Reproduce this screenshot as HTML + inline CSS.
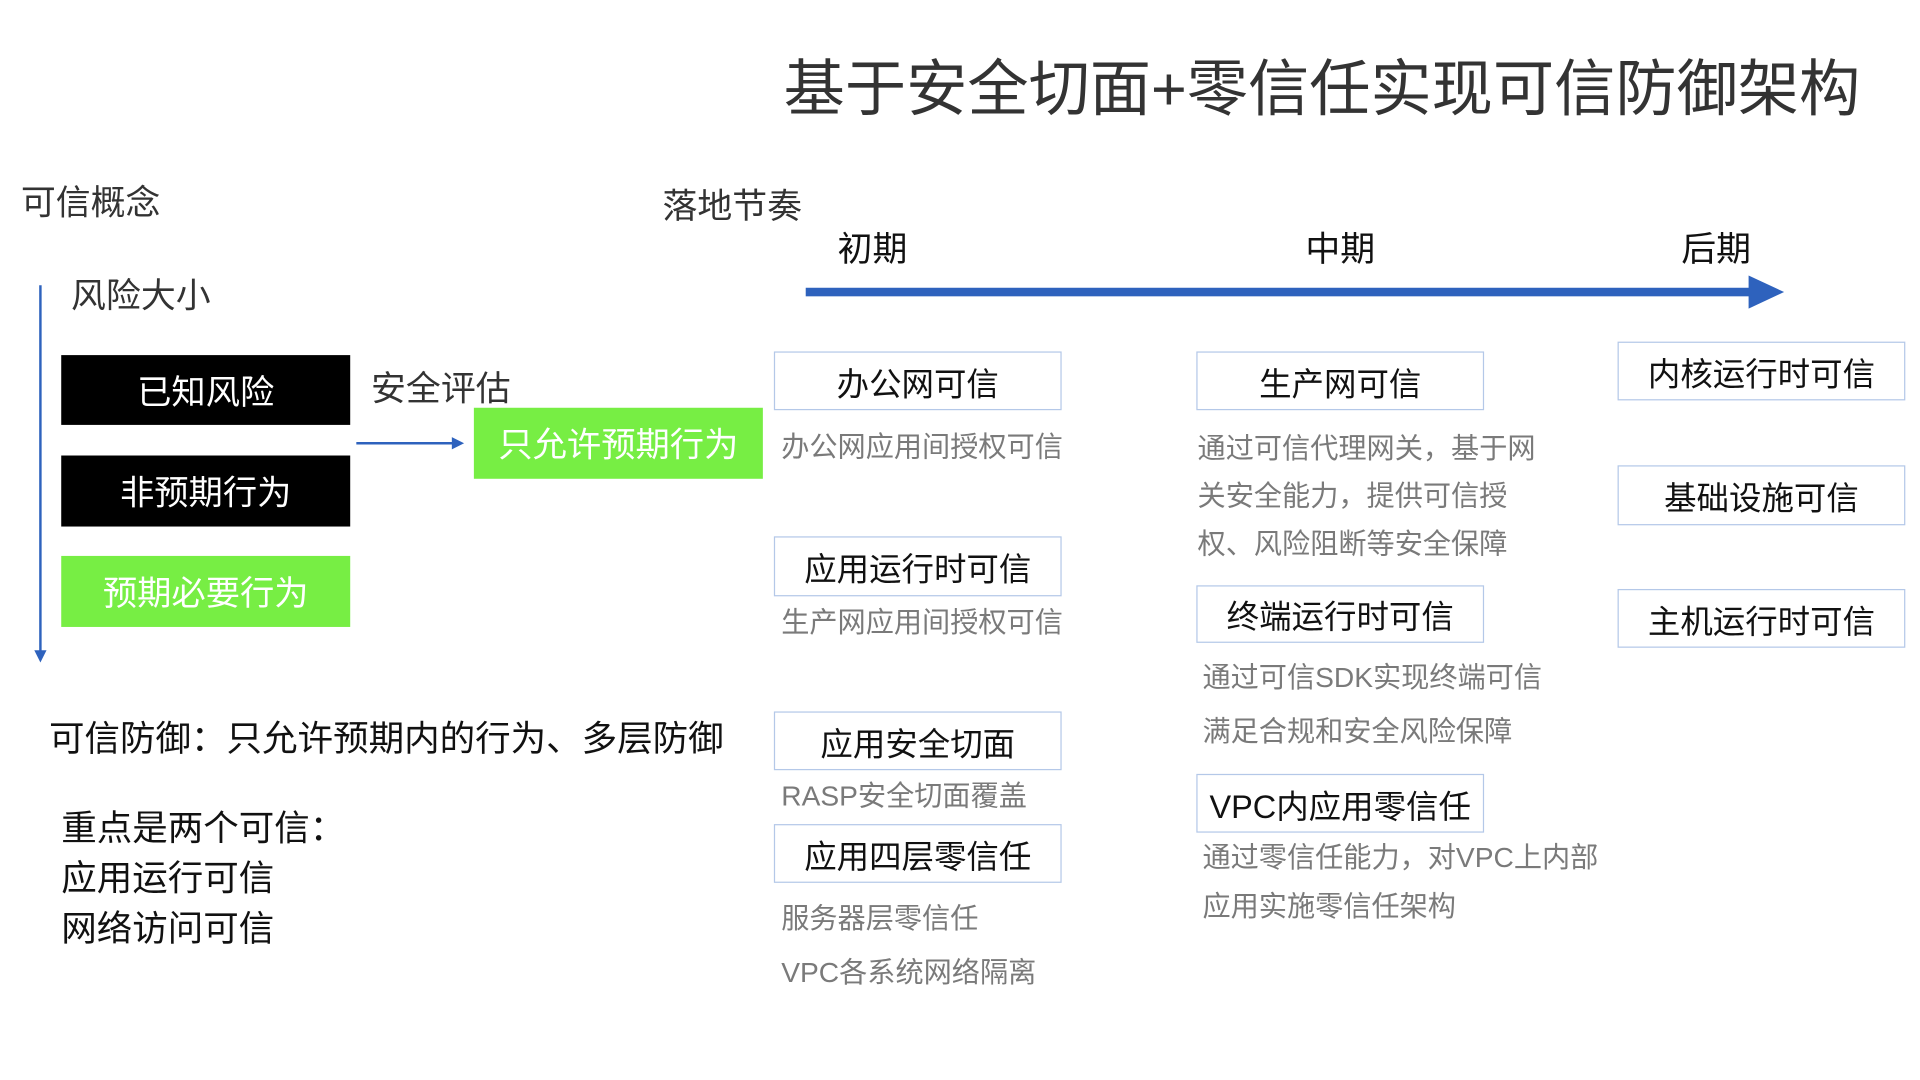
<!DOCTYPE html>
<html><head><meta charset="utf-8"><style>
html,body{margin:0;padding:0;background:#fff;width:1920px;height:1080px;overflow:hidden}
#w{position:absolute;left:0;top:0;width:1568px;height:882px;transform:scale(1.2245);transform-origin:0 0;font-family:"Liberation Sans","Noto Sans CJK SC",sans-serif}
.t{position:absolute;white-space:nowrap;line-height:1}
.b{position:absolute;box-sizing:border-box;border:1.5px solid #b4c8e8;display:flex;align-items:center;justify-content:center;font-size:26.5px;color:#111;background:#fff}
.k{position:absolute;display:flex;align-items:center;justify-content:center;font-size:28px;color:#fff}
.g{font-size:23px;color:#7a7a7a}
</style></head><body><div id="w">
<div class="t" style="left:640px;top:48px;font-size:50px;color:#333">基于安全切面+零信任实现可信防御架构</div>
<div class="t" style="left:17px;top:152px;font-size:28.5px;color:#333">可信概念</div>
<div class="t" style="left:541px;top:155px;font-size:28.5px;color:#333">落地节奏</div>
<div class="t" style="left:684px;top:190px;font-size:28.5px;color:#111">初期</div>
<div class="t" style="left:1066px;top:190px;font-size:28.5px;color:#111">中期</div>
<div class="t" style="left:1373px;top:190px;font-size:28.5px;color:#111">后期</div>
<svg style="position:absolute;left:0;top:0" width="1568" height="882">
<rect x="658" y="235" width="774" height="7" fill="#2e62bd"/>
<polygon points="1428,225 1457,238.5 1428,252" fill="#2e62bd"/>
<line x1="33" y1="233" x2="33" y2="533" stroke="#2e62bd" stroke-width="2"/>
<polygon points="28,531 38,531 33,541" fill="#2e62bd"/>
<line x1="291" y1="362" x2="370" y2="362" stroke="#2e62bd" stroke-width="2"/>
<polygon points="369,357 379,362 369,367" fill="#2e62bd"/>
</svg>
<div class="t" style="left:58px;top:228px;font-size:28.5px;color:#333">风险大小</div>
<div class="k" style="left:50px;top:290px;width:236px;height:57px;background:#000">已知风险</div>
<div class="k" style="left:50px;top:372px;width:236px;height:58px;background:#000">非预期行为</div>
<div class="k" style="left:50px;top:454px;width:236px;height:58px;background:#77ee44">预期必要行为</div>
<div class="t" style="left:303px;top:304px;font-size:28.5px;color:#333">安全评估</div>
<div class="k" style="left:387px;top:333px;width:236px;height:58px;background:#77ee44">只允许预期行为</div>

<div class="b" style="left:632px;top:287px;width:235px;height:48px">办公网可信</div>
<div class="t g" style="left:638px;top:354px">办公网应用间授权可信</div>
<div class="b" style="left:632px;top:438px;width:235px;height:49px">应用运行时可信</div>
<div class="t g" style="left:638px;top:497px">生产网应用间授权可信</div>
<div class="b" style="left:632px;top:581px;width:235px;height:48px">应用安全切面</div>
<div class="t g" style="left:638px;top:639px">RASP安全切面覆盖</div>
<div class="b" style="left:632px;top:673px;width:235px;height:48px">应用四层零信任</div>
<div class="t g" style="left:638px;top:739px">服务器层零信任</div>
<div class="t g" style="left:638px;top:783px">VPC各系统网络隔离</div>

<div class="b" style="left:977px;top:287px;width:235px;height:48px">生产网可信</div>
<div class="t g" style="left:978px;top:355px">通过可信代理网关，基于网</div>
<div class="t g" style="left:978px;top:394px">关安全能力，提供可信授</div>
<div class="t g" style="left:978px;top:433px">权、风险阻断等安全保障</div>
<div class="b" style="left:977px;top:478px;width:235px;height:47px">终端运行时可信</div>
<div class="t g" style="left:982px;top:542px">通过可信SDK实现终端可信</div>
<div class="t g" style="left:982px;top:586px">满足合规和安全风险保障</div>
<div class="b" style="left:977px;top:632px;width:235px;height:48px">VPC内应用零信任</div>
<div class="t g" style="left:982px;top:689px">通过零信任能力，对VPC上内部</div>
<div class="t g" style="left:982px;top:729px">应用实施零信任架构</div>

<div class="b" style="left:1321px;top:279px;width:235px;height:48px">内核运行时可信</div>
<div class="b" style="left:1321px;top:380px;width:235px;height:49px">基础设施可信</div>
<div class="b" style="left:1321px;top:481px;width:235px;height:48px">主机运行时可信</div>

<div class="t" style="left:40px;top:590px;font-size:29px;color:#111">可信防御：只允许预期内的行为、多层防御</div>
<div class="t" style="left:50px;top:663px;font-size:29px;color:#111">重点是两个可信：</div>
<div class="t" style="left:50px;top:704px;font-size:29px;color:#111">应用运行可信</div>
<div class="t" style="left:50px;top:745px;font-size:29px;color:#111">网络访问可信</div>
</div></body></html>
